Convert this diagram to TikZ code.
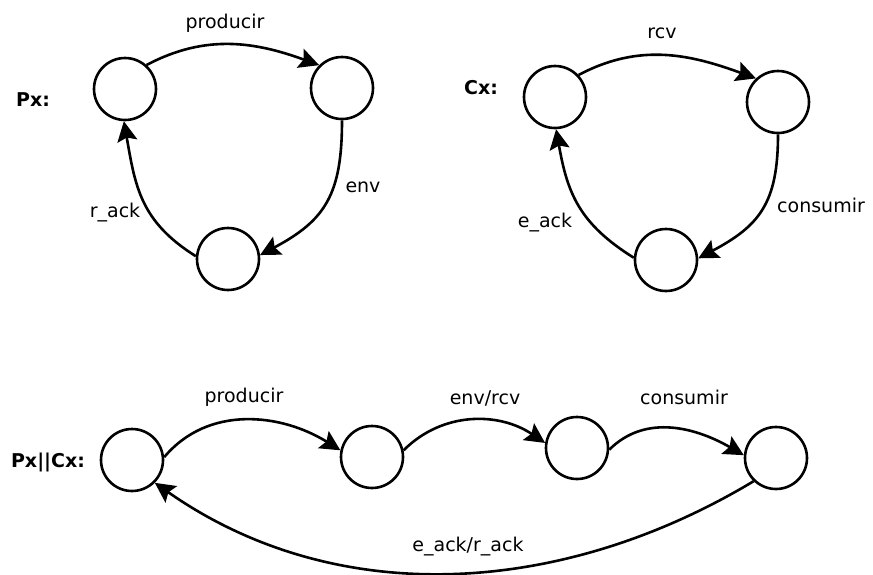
\documentclass[tikz,border=0pt]{standalone}
\usepackage{fontspec}
\setmainfont{DejaVu Sans}
\usetikzlibrary{arrows.meta}
\begin{document}
\begin{tikzpicture}[x=1pt,y=-1pt,
  state/.style={circle,draw,line width=2.6pt,minimum size=62pt,inner sep=0pt},
  trans/.style={line width=2.6pt,-{Stealth[length=20pt,width=20pt,inset=3.5pt]}},
  lbl/.style={font=\fontsize{19}{22}\selectfont,inner sep=0pt},
  title/.style={font=\fontsize{19}{22}\selectfont\bfseries,inner sep=0pt}]
\useasboundingbox (0,0) rectangle (873,574);
% Px
\node[title] (px) at (33,100) {Px:};
\node[state] (a) at (125,89) {};
\node[state] (b) at (342,88) {};
\node[state] (c) at (228,259) {};
\draw[trans] (a.48) to[out=28,in=160] (b.135);
\draw[trans] (b.270) to[out=-90,in=28,looseness=1.2] (c.7);
\draw[trans] (c.175) to[out=148,in=-80,looseness=1.1] (a.268);
\node[lbl] (lp) at (225,23) {producir};
\node[lbl] (le) at (363,187) {env};
\node[lbl] (lr) at (115,213) {r\_ack};
% Cx
\node[title] (cx) at (481,88) {Cx:};
\node[state] (d) at (555,97) {};
\node[state] (e) at (778,102) {};
\node[state] (f) at (666,260) {};
\draw[trans] (d.43) to[out=28,in=160] (e.133);
\draw[trans] (e.270) to[out=-90,in=28,looseness=1.2] (f.3);
\draw[trans] (f.176) to[out=148,in=-80,looseness=1.1] (d.272);
\node[lbl] (lrcv) at (662,33) {rcv};
\node[lbl] (lc) at (821,205) {consumir};
\node[lbl] (lea) at (545,223) {e\_ack};
% Px||Cx
\node[title] (pc) at (48,462) {Px||Cx:};
\node[state] (g) at (132,460) {};
\node[state] (h) at (372,457) {};
\node[state] (i) at (577,448) {};
\node[state] (j) at (776,458) {};
\draw[trans] (g.5) to[out=50,in=148] (h.168);
\draw[trans] (h.12) to[out=45,in=146] (i.171);
\draw[trans] (i.-3) to[out=45,in=150] (j.175);
\draw[trans] (j.226) to[out=211,in=-35,looseness=0.95] (g.-45);
\node[lbl] (lp2) at (244,397) {producir};
\node[lbl] (ler) at (485,398) {env/rcv};
\node[lbl] (lc2) at (684,397) {consumir};
\node[lbl] (lack) at (468,547) {e\_ack/r\_ack};
\end{tikzpicture}
\end{document}
